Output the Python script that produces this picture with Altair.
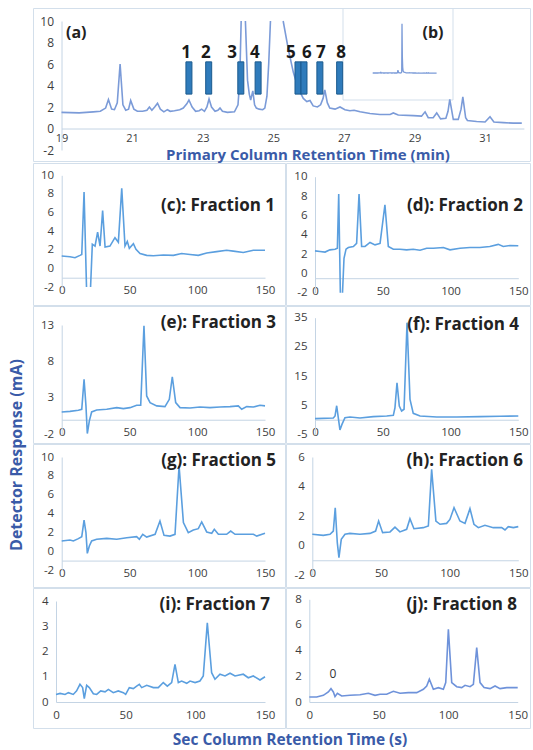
import altair as alt
import pandas as pd

FONT = "Open Sans"
TOP_TRACE = "#7b9bd8"
FRAC_TRACE = "#5b9fdf"
J_TRACE = "#6e92da"
BAR_FILL = "#2f7bbb"
BAR_EDGE = "#1b5a8e"
AXIS_BLUE = "#3a5ba8"
INK = "#222222"
TICK_INK = "#3d3d3d"
FRAME = "#d3dfeb"
DOMAIN = "#c4d4e4"

# ---------------- (a) primary column chromatogram (time min, response mA)
prim_trace = [
    (19.0, 1.5), (19.5, 1.45), (19.9, 1.55), (20.1, 1.6), (20.25, 1.9), (20.33, 2.7),
    (20.42, 1.8), (20.5, 1.75), (20.58, 2.4), (20.66, 6.0), (20.74, 2.2), (20.82, 1.7),
    (20.9, 1.8), (20.96, 2.6), (21.05, 1.8), (21.15, 1.6), (21.3, 1.6), (21.42, 1.7),
    (21.49, 2.0), (21.56, 1.7), (21.64, 2.0), (21.72, 2.35), (21.8, 1.8), (21.9, 1.55),
    (22.0, 1.75), (22.08, 1.6), (22.2, 1.65), (22.35, 1.75), (22.45, 1.9), (22.55, 2.3),
    (22.61, 2.65), (22.7, 2.0), (22.8, 1.6), (22.9, 1.65), (22.97, 1.8), (23.05, 1.6),
    (23.12, 2.0), (23.18, 2.75), (23.25, 2.0), (23.35, 1.6), (23.43, 1.7), (23.49, 1.9),
    (23.56, 1.6), (23.7, 1.5), (23.9, 1.55), (24.0, 2.2), (24.05, 4.5), (24.09, 10.0),
    (24.15, 22.0), (24.21, 10.0), (24.27, 4.5), (24.32, 3.2), (24.36, 2.65), (24.42, 3.5),
    (24.47, 2.2), (24.52, 1.9), (24.6, 1.8), (24.7, 1.75), (24.76, 1.9), (24.82, 3.0),
    (24.87, 6.0), (24.92, 10.0), (24.98, 356.0), (25.05, 120.0), (25.12, 45.0), (25.2, 18.0),
    (25.28, 10.0), (25.43, 7.3), (25.57, 5.2), (25.71, 3.7), (25.85, 2.8), (25.95, 2.5),
    (26.04, 2.6), (26.13, 2.1), (26.25, 2.0), (26.34, 2.2), (26.41, 2.8), (26.46, 3.6),
    (26.53, 2.4), (26.6, 1.9), (26.75, 1.8), (26.89, 2.0), (27.03, 1.75), (27.17, 1.65),
    (27.29, 1.7), (27.46, 1.55), (27.74, 1.4), (28.02, 1.3), (28.31, 1.3), (28.4, 1.45),
    (28.54, 1.25), (28.97, 1.2), (29.2, 1.15), (29.3, 1.55), (29.39, 1.0), (29.53, 1.0),
    (29.63, 1.45), (29.74, 0.9), (29.89, 0.95), (29.95, 1.6), (30.0, 2.7), (30.1, 0.85),
    (30.24, 0.85), (30.32, 1.8), (30.37, 2.95), (30.45, 1.0), (30.5, 0.75), (30.76, 0.65),
    (31.0, 0.6), (31.14, 1.1), (31.25, 0.6), (31.52, 0.55), (31.8, 0.5), (32.04, 0.5),
]
fraction_ids = ["1", "2", "3", "4", "5", "6", "7", "8"]
fraction_bar_time = [22.61, 23.17, 24.08, 24.57, 25.70, 25.87, 26.32, 26.88]
fraction_label_time = [22.53, 23.09, 23.83, 24.48, 25.50, 25.95, 26.35, 26.92]
fraction_bar_low = 3.2
fraction_bar_high = 6.2
fraction_label_level = 7.0

prim_x_ticks = [19, 21, 23, 25, 27, 29, 31]
prim_y_ticks = [-2, 0, 2, 4, 6, 8, 10]
inset_x_ticks = [19, 29]
inset_y_ticks = [-25, 175, 375]
sec_x_ticks = [0, 50, 100, 150]

# ---------------- (c)-(j) secondary column traces (time s, response mA)
trace_c = [
    (0, 1.33), (6.1, 1.25), (9.8, 1.15), (13.5, 1.4), (14.8, 1.5), (16.5, 8.2), (18.3, -2.0),
    (19.8, -5.0), (21.3, -2.0), (22.6, 2.6), (24.6, 2.4), (26.5, 3.9), (28.3, 2.4), (30.2, 6.2),
    (32.0, 2.3), (35.6, 2.4), (39.3, 3.3), (41.8, 2.8), (44.3, 8.6), (46.7, 2.4), (48.4, 2.9),
    (49.9, 2.15), (52.9, 2.65), (54.8, 2.05), (57.8, 1.6), (62.7, 1.4), (67.6, 1.35), (75, 1.43),
    (82.4, 1.4), (88.5, 1.6), (94.7, 1.5), (100.8, 1.4), (107, 1.65), (114.3, 1.8), (121.7, 1.95),
    (126.6, 1.85), (134, 1.7), (141.4, 1.95), (150, 1.95),
]
trace_d = [
    (0, 2.33), (3.7, 2.26), (7.4, 2.2), (11, 2.43), (14.8, 2.5), (16.5, 2.6), (17.5, 8.2),
    (18.7, -2.0), (19.5, -5.0), (20.3, -2.0), (21.4, 1.56), (22.9, 2.5), (24.6, 2.67), (28.3, 2.78),
    (30.7, 3.1), (32.5, 8.2), (34.4, 2.78), (36.9, 2.78), (40.6, 3.2), (44.3, 2.95), (48, 3.1),
    (51.6, 7.1), (54.1, 2.78), (57.8, 2.5), (62.7, 2.5), (67.6, 2.43), (72.5, 2.5), (77.5, 2.4),
    (82.4, 2.6), (87.3, 2.6), (94.7, 2.67), (99.6, 2.43), (107, 2.6), (114.3, 2.67), (121.7, 2.67),
    (129, 2.78), (135.2, 3.0), (138.9, 2.78), (143.9, 2.88), (150, 2.85),
]
trace_e = [
    (0, 1.07), (6.1, 1.15), (12.3, 1.3), (14.8, 1.43), (16.5, 5.55), (17.9, 1.9), (18.9, -1.9),
    (20.4, -0.15), (22.1, 1.07), (25.8, 1.34), (33.2, 1.43), (40.6, 1.66), (45.5, 1.52), (50.4, 1.66),
    (55.3, 1.98), (58.3, 1.98), (60.7, 12.9), (62.7, 3.26), (65.2, 2.35), (70.1, 1.9), (76.2, 1.8),
    (79.4, 2.8), (81.6, 5.9), (84.1, 2.35), (87.3, 1.66), (94.7, 1.6), (102, 1.75), (109.4, 1.66),
    (116.8, 1.75), (124.2, 1.8), (130.3, 1.9), (132.8, 1.43), (136.5, 1.8), (141.4, 1.75),
    (146.3, 1.98), (150, 1.9),
]
trace_f = [
    (0, 0.37), (13.5, 0.6), (14.8, 1.3), (16.0, 4.8), (17.5, -0.4), (18.4, -3.5), (19.9, -1.6),
    (22.1, 0.7), (25.8, 0.95), (33.2, 0.6), (43, 1.06), (52.9, 1.3), (57.8, 1.5), (59, 4.1),
    (60.5, 12.7), (62.2, 4.7), (63.9, 3.0), (65.7, 3.6), (67.9, 33.3), (70.1, 7.0), (72.5, 2.2),
    (77.5, 1.3), (89.8, 0.95), (104.5, 0.95), (121.7, 1.06), (136.5, 1.17), (150, 1.3),
]
trace_g = [
    (0, 1.08), (6.1, 1.18), (8.6, 1.08), (12.3, 1.33), (14.8, 1.54), (16.5, 3.3), (17.9, 1.96),
    (18.9, -0.23), (20.4, 0.55), (22.1, 1.08), (25.8, 1.26), (33.2, 1.36), (40.6, 1.26), (48, 1.43),
    (55.3, 1.54), (57.3, 1.26), (59.8, 1.79), (62.7, 1.5), (68.9, 1.79), (72.5, 3.2), (75.5, 1.68),
    (79.9, 1.6), (83.6, 1.79), (86.6, 9.04), (89.8, 3.03), (93.4, 1.96), (97.1, 2.25), (100.8, 2.39),
    (103.3, 3.1), (107, 2.04), (110.7, 1.9), (112.6, 2.32), (115.6, 1.79), (121.7, 1.79),
    (124.7, 2.14), (127.9, 1.79), (134, 1.79), (141.4, 1.79), (143.9, 1.6), (150, 1.9),
]
trace_h = [
    (0, 0.76), (8, 0.69), (12.9, 0.76), (15.3, 0.98), (16.7, 2.56), (18.2, 0.19), (19.4, -0.82),
    (21.1, 0.42), (23.8, 0.76), (27.4, 0.82), (34.7, 0.76), (42, 0.82), (46.1, 0.98), (48.3, 1.66),
    (51.2, 0.87), (56.6, 0.92), (60.2, 1.25), (63.8, 0.92), (68.7, 1.1), (71.1, 1.82), (74, 1.14),
    (80.8, 1.21), (84.5, 1.32), (86.9, 5.16), (90, 1.66), (93, 1.44), (97.8, 1.5), (100.2, 1.77),
    (103.2, 2.56), (107.5, 1.66), (111.2, 1.5), (114.8, 2.5), (117.7, 1.44), (120.9, 1.21),
    (125.7, 1.37), (131.8, 1.21), (137.9, 1.21), (140.3, 1.05), (142.7, 1.28), (146.4, 1.21),
    (150, 1.28),
]
trace_i = [
    (0, 0.3), (2.9, 0.34), (6.5, 0.3), (8.9, 0.37), (12.4, 0.3), (14.8, 0.44), (17.2, 0.7),
    (19.1, 0.57), (20.3, 0.13), (22, 0.66), (23.9, 0.57), (26.8, 0.33), (29.2, 0.3), (32.1, 0.44),
    (35.2, 0.4), (37.6, 0.5), (41.1, 0.37), (44.7, 0.44), (48.3, 0.37), (50, 0.3), (52.6, 0.57),
    (55.5, 0.53), (57.9, 0.63), (59.8, 0.7), (61.5, 0.57), (65.1, 0.66), (69.9, 0.57), (73.4, 0.57),
    (77, 0.77), (79.9, 0.63), (83, 0.77), (85.4, 1.49), (87.8, 0.77), (90.2, 0.83), (93.8, 0.74),
    (96.2, 0.83), (99.8, 0.77), (103.3, 0.83), (105.7, 1.03), (108.6, 3.14), (111.7, 1.16),
    (114.1, 0.9), (117.7, 1.1), (121.3, 1.03), (124.9, 1.14), (128.5, 1.03), (134.4, 1.1),
    (138, 0.96), (141.6, 1.03), (146.4, 0.87), (150, 1.0),
]
trace_j = [
    (0, 0.39), (5.3, 0.39), (10.1, 0.52), (13.7, 0.78), (15.6, 1.04), (17.3, 0.78), (18.5, 0.42),
    (20.2, 0.68), (23.3, 0.47), (29.3, 0.52), (36.5, 0.57), (42.5, 0.68), (47.3, 0.52), (50.9, 0.6),
    (55.7, 0.6), (60.5, 0.83), (65.3, 0.68), (71.3, 0.73), (77.3, 0.73), (82.1, 0.99), (84.5, 1.25),
    (86.4, 1.77), (89.3, 0.99), (92.9, 1.12), (96.5, 0.99), (98.2, 1.51), (100.1, 5.66),
    (102.5, 1.51), (106.1, 1.19), (109.7, 1.12), (112.1, 1.3), (115.7, 1.19), (118.1, 1.38),
    (120.5, 4.23), (122.9, 1.51), (125.8, 1.12), (130.1, 1.04), (133.7, 1.25), (137.3, 1.04),
    (142.1, 1.12), (150, 1.12),
]
panel_titles = ["(c): Fraction 1", "(d): Fraction 2", "(e): Fraction 3", "(f): Fraction 4",
                "(g): Fraction 5", "(h): Fraction 6", "(i): Fraction 7", "(j): Fraction 8"]


def masked(vals, lo, hi):
    return [v if lo <= v <= hi else None for v in vals]


def x_axis(values, offset, size=11.5, pad=7):
    return alt.Axis(values=values, offset=offset, orient="bottom", grid=False, ticks=False,
                    domainColor=DOMAIN, domainWidth=1, labelFont=FONT, labelFontSize=size,
                    labelColor=TICK_INK, labelPadding=pad, labelOverlap=False, labelFlush=False,
                    labelExpr="'' + datum.value", title=None)


def y_axis(values, offset, size=11.5, pad=8):
    return alt.Axis(values=values, offset=offset, orient="left", grid=False, ticks=False,
                    domainColor=DOMAIN, domainWidth=1, labelFont=FONT, labelFontSize=size,
                    labelColor=TICK_INK, labelPadding=pad, labelOverlap=False, labelFlush=False,
                    labelExpr="'' + datum.value", title=None)


def text_mark(s, x, y, size, align="center", weight="bold", color=INK, angle=0):
    return alt.Chart(pd.DataFrame({"s": [s]})).mark_text(
        align=align, baseline="middle", font=FONT, fontSize=size, fontWeight=weight,
        color=color, angle=angle).encode(x=alt.value(x), y=alt.value(y), text="s:N")


def frame(W, H):
    return alt.Chart(pd.DataFrame({"a": [0]})).mark_rect(
        fill="transparent", stroke=FRAME, strokeWidth=1).encode(
        x=alt.value(0.5), x2=alt.value(W - 0.5), y=alt.value(0.5), y2=alt.value(H - 0.5))


def frac_panel(trace, title, ydom, yticks, xr, yr, cross, W, H, tx, ty, color=FRAC_TRACE, extra=None):
    t = [p[0] for p in trace]
    v = [p[1] for p in trace]
    df = pd.DataFrame({"t": t, "v": masked(v, ydom[0], ydom[1])})
    cross_px = yr[0] + (cross - ydom[0]) / (ydom[1] - ydom[0]) * (yr[1] - yr[0])
    xs = alt.Scale(domain=[0, 150], range=list(xr), nice=False, zero=False)
    ys = alt.Scale(domain=list(ydom), range=list(yr), nice=False, zero=False, clamp=True)
    line = alt.Chart(df).mark_line(color=color, strokeWidth=1.6,
                                   invalid="break-paths-filter-domains").encode(
        x=alt.X("t:Q", scale=xs, axis=x_axis(sec_x_ticks, -(H - cross_px))),
        y=alt.Y("v:Q", scale=ys, axis=y_axis(yticks, -xr[0])),
    )
    layers = [frame(W, H), line, text_mark(title, tx, ty, 17, align="right")]
    if extra is not None:
        layers.append(extra)
    return alt.layer(*layers).properties(width=W, height=H)


# ---------------- top panel (a) + inset (b)
TW, TH = 498, 154
prim_df = pd.DataFrame({
    "t": [p[0] for p in prim_trace],
    "v": [p[1] for p in prim_trace],
})
prim_df["vm"] = masked(list(prim_df["v"]), -2, 10)

xs_main = alt.Scale(domain=[19, 32.1], range=[28.5, 490.9], nice=False, zero=False)
ys_main = alt.Scale(domain=[-2, 10], range=[142, 13], nice=False, zero=False, clamp=True)
ax_main_x = x_axis(prim_x_ticks, -(TH - 120.5), size=11, pad=4)
ax_main_y = y_axis(prim_y_ticks, -28.5, size=12, pad=8)

main_line = alt.Chart(prim_df).mark_line(color=TOP_TRACE, strokeWidth=1.6,
                                         invalid="break-paths-filter-domains").encode(
    x=alt.X("t:Q", scale=xs_main, axis=ax_main_x),
    y=alt.Y("vm:Q", scale=ys_main, axis=ax_main_y),
)
bars_df = pd.DataFrame({
    "x0": [t - 0.085 for t in fraction_bar_time],
    "x1": [t + 0.085 for t in fraction_bar_time],
    "y0": [fraction_bar_low] * len(fraction_bar_time),
    "y1": [fraction_bar_high] * len(fraction_bar_time),
})
bars = alt.Chart(bars_df).mark_rect(fill=BAR_FILL, stroke=BAR_EDGE, strokeWidth=1).encode(
    x=alt.X("x0:Q", scale=xs_main, axis=ax_main_x), x2="x1",
    y=alt.Y("y0:Q", scale=ys_main, axis=ax_main_y), y2="y1",
)
lab_df = pd.DataFrame({"t": fraction_label_time, "y": [fraction_label_level] * 8, "s": fraction_ids})
bar_labels = alt.Chart(lab_df).mark_text(font=FONT, fontSize=17, fontWeight="bold",
                                         color="#1a1a1a", baseline="middle").encode(
    x=alt.X("t:Q", scale=xs_main, axis=ax_main_x),
    y=alt.Y("y:Q", scale=ys_main, axis=ax_main_y),
    text="s:N",
)
main_layer = alt.layer(main_line, bars, bar_labels)

xs_in = alt.Scale(domain=[19, 32], range=[339.7, 403.4], nice=False, zero=False)
ys_in = alt.Scale(domain=[-25, 375], range=[68.7, 13], nice=False, zero=False)
inset_bg = alt.Chart(pd.DataFrame({"a": [0]})).mark_rect(fill="white", stroke=FRAME, strokeWidth=1).encode(
    x=alt.value(310), x2=alt.value(420), y=alt.value(0.5), y2=alt.value(92))
inset_line = alt.Chart(prim_df).mark_line(color=TOP_TRACE, strokeWidth=1.3).encode(
    x=alt.X("t:Q", scale=xs_in, axis=x_axis(inset_x_ticks, -(TH - 65.2), size=11.5, pad=8)),
    y=alt.Y("v:Q", scale=ys_in, axis=y_axis(inset_y_ticks, -339.7, size=11.5, pad=7)),
)
inset_layer = alt.layer(frame(TW, TH), inset_bg, inset_line)

top = alt.layer(
    inset_layer, main_layer,
    text_mark("(a)", 33, 25, 16, align="left"),
    text_mark("(b)", 400, 25, 16),
    text_mark("Primary Column Retention Time (min)", 275, 146.5, 15, color=AXIS_BLUE),
).resolve_scale(x="independent", y="independent").properties(width=TW, height=TH)

# ---------------- fraction panels
LW, RW = 253, 245
p_c = frac_panel(trace_c, panel_titles[0], (-2, 10), [-2, 0, 2, 4, 6, 8, 10], (28.7, 232), (124, 12.3), -1, LW, 143, 242, 43)
p_d = frac_panel(trace_d, panel_titles[1], (-2, 10), [-2, 0, 2, 4, 6, 8, 10], (29, 232.3), (129.7, 13.7), -0.5, RW, 143, 237, 43)
p_e = frac_panel(trace_e, panel_titles[2], (-2, 13), [-2, 3, 8, 13], (28.7, 232), (128.3, 19), 0, LW, 138, 243, 17)
p_f = frac_panel(trace_f, panel_titles[3], (-5, 35), [-5, 5, 15, 25, 35], (29, 232.3), (128.3, 11.7), 0, RW, 138, 233, 19)
p_g = frac_panel(trace_g, panel_titles[4], (-2, 10), [-2, 0, 2, 4, 6, 8, 10], (28.7, 232), (126, 13), -1, LW, 144, 243, 17)
p_h = frac_panel(trace_h, panel_titles[5], (-2, 6), [-2, 0, 2, 4, 6], (26.3, 232.3), (131, 13), -1, RW, 144, 237, 17)
p_i = frac_panel(trace_i, panel_titles[6], (0, 4), [0, 1, 2, 3, 4], (23, 232), (114, 13), 0, LW, 141, 237, 17)
p_j = frac_panel(trace_j, panel_titles[7], (0, 8), [0, 2, 4, 6, 8], (23.3, 231.7), (114, 11.3), 0, RW, 141, 231, 17,
                 color=J_TRACE, extra=text_mark("0", 47, 86, 12, weight="normal", color="#333333"))

rows = [alt.hconcat(a, b, spacing=0) for a, b in
        [(p_c, p_d), (p_e, p_f), (p_g, p_h), (p_i, p_j)]]

bottom = text_mark("Sec Column Retention Time (s)", 257, 11, 15.5, color=AXIS_BLUE).properties(
    width=TW, height=22)

right = alt.vconcat(top, *rows, bottom, spacing=0)

left = text_mark("Detector Response (mA)", 17, 447, 16, color=AXIS_BLUE, angle=270).properties(
    width=33, height=742)

chart = alt.hconcat(left, right, spacing=0).properties(
    padding={"left": 0, "top": 8, "right": 0, "bottom": 0},
    background="white",
).configure_view(strokeWidth=0, stroke="transparent")

chart.save("out.html", embed_options={"renderer": "svg", "actions": False})
